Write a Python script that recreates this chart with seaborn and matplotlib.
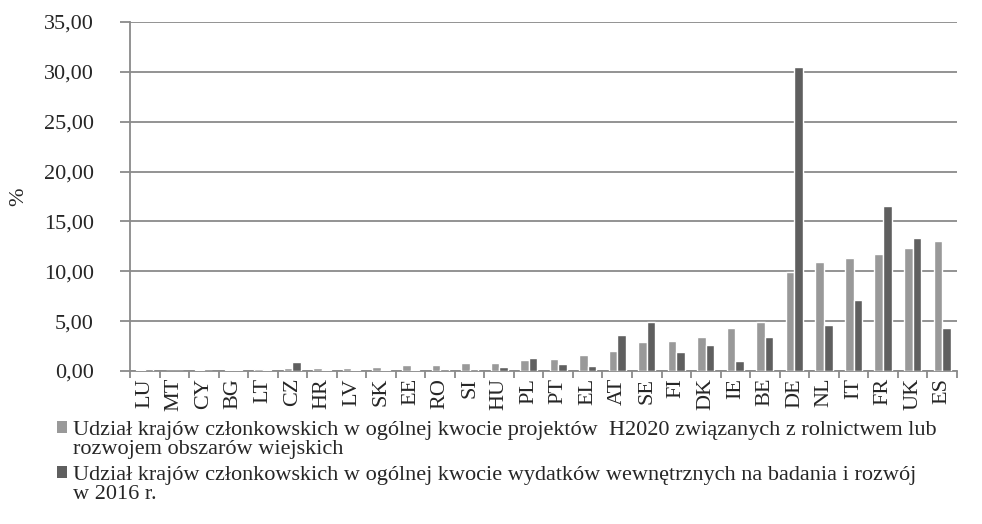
import numpy as np
import pandas as pd
import matplotlib.pyplot as plt
import seaborn as sns
from matplotlib.patches import Patch, Rectangle
from matplotlib.legend_handler import HandlerPatch
from matplotlib.ticker import FuncFormatter, FixedLocator

countries = ["LU", "MT", "CY", "BG", "LT", "CZ", "HR", "LV", "SK", "EE", "RO", "SI", "HU", "PL",
             "PT", "EL", "AT", "SE", "FI", "DK", "IE", "BE", "DE", "NL", "IT", "FR", "UK", "ES"]
h2020_share = [0.05, 0.03, 0.05, 0.13, 0.20, 0.27, 0.27, 0.33, 0.37, 0.57, 0.57, 0.77, 0.83, 1.10,
               1.17, 1.57, 1.97, 2.90, 3.00, 3.45, 4.30, 4.96, 9.95, 10.90, 11.37, 11.70, 12.37, 13.08]
gerd_share = [0.17, 0.04, 0.04, 0.05, 0.05, 0.87, 0.07, 0.05, 0.13, 0.05, 0.23, 0.23, 0.37, 1.30,
              0.70, 0.50, 3.58, 4.96, 1.90, 2.58, 1.04, 3.42, 30.45, 4.63, 7.10, 16.50, 13.30, 4.30]
series_labels = [
    "Udział krajów członkowskich w ogólnej kwocie projektów  H2020 związanych z rolnictwem lub\n"
    "rozwojem obszarów wiejskich",
    "Udział krajów członkowskich w ogólnej kwocie wydatków wewnętrznych na badania i rozwój\n"
    "w 2016 r.",
]

df = pd.DataFrame({
    "country": countries * 2,
    "value": h2020_share + gerd_share,
    "series": [series_labels[0]] * len(countries) + [series_labels[1]] * len(countries),
})

sns.set_theme(style="white")
plt.rcParams["font.family"] = ["Liberation Serif", "DejaVu Serif"]
FS = 16
GRID = "#8a8a8a"

fig = plt.figure(figsize=(9.82, 5.24), dpi=100)
ax = fig.add_axes([0.1324, 0.292, 0.842, 0.666])

palette = ["#999999", "#5f5f5f"]
sns.barplot(data=df, x="country", y="value", hue="series", palette=palette,
            width=0.58, gap=0, saturation=1, ax=ax, zorder=3, legend=False)

ax.set_ylim(0, 35)
ax.set_xlim(-0.5, len(countries) - 0.5)
ax.set_yticks(np.arange(0, 35.1, 5))
ax.yaxis.set_major_formatter(FuncFormatter(lambda v, p: f"{v:.2f}".replace(".", ",")))
ax.grid(axis="y", color=GRID, linewidth=1.3, zorder=0)
ax.set_axisbelow(True)

for side in ["top", "right"]:
    ax.spines[side].set_visible(False)
for side in ["left", "bottom"]:
    ax.spines[side].set_color(GRID)
    ax.spines[side].set_linewidth(1.3)

ax.tick_params(axis="y", which="major", length=7, color=GRID, width=1.3,
               labelsize=FS, pad=19, left=True)
ax.tick_params(axis="x", which="major", length=0, labelsize=FS, rotation=90, pad=5)
ax.xaxis.set_minor_locator(FixedLocator(np.arange(-0.5, len(countries), 1)))
ax.tick_params(axis="x", which="minor", length=5, color=GRID, width=1.3, bottom=True)

ax.set_xlabel("")
ax.set_ylabel("%", fontsize=FS, labelpad=11)


# legend marker sits level with the first line of each two-line label
def top_square(legend, orig_handle, xdescent, ydescent, width, height, fontsize):
    return Rectangle((-xdescent, -ydescent + 0.55 * fontsize), width, height)


handles = [Patch(facecolor=c, edgecolor="none") for c in palette]
leg = fig.legend(handles, series_labels, loc="upper left",
                 bbox_to_anchor=(0.058, 1 - 421 / 524), bbox_transform=fig.transFigure,
                 frameon=False, fontsize=FS, handlelength=0.45, handleheight=0.45,
                 handletextpad=0.25, labelspacing=0.3, borderaxespad=0, borderpad=0,
                 handler_map={Patch: HandlerPatch(patch_func=top_square)})
for t in leg.get_texts():
    t.set_linespacing(1.0)

fig.savefig("out.png", dpi=100)
